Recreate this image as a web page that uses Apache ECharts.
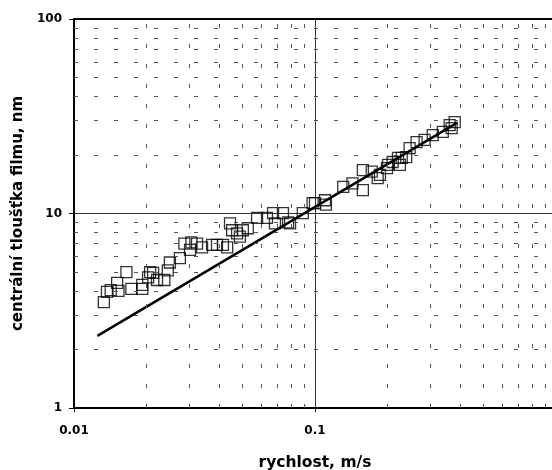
<!DOCTYPE html>
<html lang="cs">
<head>
<meta charset="UTF-8">
<title>Tloušťka filmu</title>
<script src="https://cdn.jsdelivr.net/npm/echarts@6/dist/echarts.min.js"></script>
<style>
  html, body { margin: 0; padding: 0; background: #fff; }
  #chart { width: 552px; height: 470px; }
</style>
</head>
<body>
<div id="chart"></div>
<script>
// rychlost [m/s] a centrální tloušťka filmu [nm]
var speed = [
  0.0133, 0.0137, 0.0142, 0.0153, 0.0151, 0.0165, 0.0173, 0.0192, 0.0192, 0.0203,
  0.0207, 0.0213, 0.0221, 0.0237, 0.0245, 0.0250, 0.0275, 0.0287, 0.0307, 0.0303,
  0.0324, 0.0340, 0.0374, 0.0392, 0.0415, 0.0432, 0.0444, 0.0453, 0.0475, 0.0488,
  0.0502, 0.0526, 0.0575, 0.0632, 0.0670, 0.0682, 0.0736, 0.0773, 0.0788, 0.0890,
  0.0977, 0.100, 0.110, 0.111, 0.131, 0.143, 0.158, 0.158, 0.172, 0.182,
  0.186, 0.199, 0.201, 0.210, 0.221, 0.225, 0.239, 0.229, 0.247, 0.264,
  0.285, 0.308, 0.339, 0.362, 0.380, 0.369
];
var thickness = [
  3.5, 3.95, 4.04, 4.0, 4.4, 5.0, 4.1, 4.1, 4.3, 4.7,
  5.0, 4.95, 4.55, 4.55, 5.1, 5.6, 5.9, 7.0, 7.1, 6.5,
  7.0, 6.7, 6.9, 6.9, 6.9, 6.7, 8.9, 8.2, 7.9, 7.6,
  8.2, 8.4, 9.5, 9.5, 10.05, 8.9, 10.05, 9.0, 8.9, 10.05,
  11.3, 11.3, 11.7, 11.1, 13.7, 14.3, 13.2, 16.7, 16.4, 15.2,
  15.8, 17.1, 17.8, 18.4, 19.3, 17.8, 19.5, 19.3, 21.7, 23.3,
  23.9, 25.3, 26.3, 28.5, 29.5, 27.5
];

// teoretická přímka
var fitX = [0.0125, 0.39];
var fitY = [2.35, 29.3];

// pomocné (vedlejší) mřížky
var minorX = [0.02, 0.03, 0.04, 0.05, 0.06, 0.07, 0.08, 0.09,
              0.2, 0.3, 0.4, 0.5, 0.6, 0.7, 0.8, 0.9];
var minorY = [2, 3, 4, 5, 6, 7, 8, 9, 20, 30, 40, 50, 60, 70, 80, 90];

var font = 'DejaVu Sans';

var points = speed.map(function (v, i) { return [v, thickness[i]]; });
var fitLine = fitX.map(function (v, i) { return [v, fitY[i]]; });

var gridMarks = minorX.map(function (v) { return { xAxis: v }; })
  .concat(minorY.map(function (v) { return { yAxis: v }; }));

var chart = echarts.init(document.getElementById('chart'));

var option = {
  animation: false,
  // graf je vpravo oříznutý: hodnota 1 leží až za okrajem obrázku
  grid: {
    left: 74, top: 19, width: 482, height: 389,
    outerBoundsMode: 'none'
  },
  xAxis: [{
    type: 'log', logBase: 10, min: 0.01, max: 1,
    name: 'rychlost, m/s',
    nameLocation: 'middle', nameGap: 47,
    nameTextStyle: { fontFamily: font, fontWeight: 'bold', fontSize: 15.5, color: '#000' },
    axisLine: { lineStyle: { color: '#000', width: 2 } },
    axisTick: { show: true, length: 4, lineStyle: { color: '#000' } },
    axisLabel: { margin: 17, fontFamily: font, fontWeight: 'bold', fontSize: 12, color: '#000' },
    splitLine: { show: true, lineStyle: { color: '#333', width: 1 } }
  }, {
    // horní okraj grafu
    type: 'log', logBase: 10, min: 0.01, max: 1,
    position: 'top',
    axisLine: { show: true, onZero: false, lineStyle: { color: '#000', width: 2 } },
    axisTick: { show: false },
    axisLabel: { show: false },
    splitLine: { show: false }
  }],
  yAxis: {
    type: 'log', logBase: 10, min: 1, max: 100,
    name: 'centrální tloušťka filmu, nm',
    nameLocation: 'middle', nameGap: 48,
    nameTextStyle: { fontFamily: font, fontWeight: 'bold', fontSize: 15, color: '#000' },
    axisLine: { lineStyle: { color: '#000', width: 2 } },
    axisTick: { show: true, length: 5, lineStyle: { color: '#000' } },
    axisLabel: { margin: 12, fontFamily: font, fontWeight: 'bold', fontSize: 12, color: '#000' },
    splitLine: { show: true, lineStyle: { color: '#333', width: 1 } }
  },
  series: [
    {
      name: 'mrizka',
      type: 'line',
      data: [],
      silent: true,
      z: 1,
      markLine: {
        silent: true,
        symbol: ['none', 'none'],
        label: { show: false },
        lineStyle: { type: [4, 16], color: '#555', width: 1 },
        emphasis: { disabled: true },
        data: gridMarks
      }
    },
    {
      name: 'měření',
      type: 'scatter',
      symbol: 'rect',
      symbolSize: 11,
      z: 3,
      itemStyle: { color: 'rgba(0,0,0,0)', borderColor: '#000', borderWidth: 1.3 },
      data: points
    },
    {
      name: 'teorie',
      type: 'line',
      showSymbol: false,
      z: 4,
      lineStyle: { color: '#000', width: 2.5 },
      data: fitLine
    }
  ]
};

chart.setOption(option);
</script>
</body>
</html>
